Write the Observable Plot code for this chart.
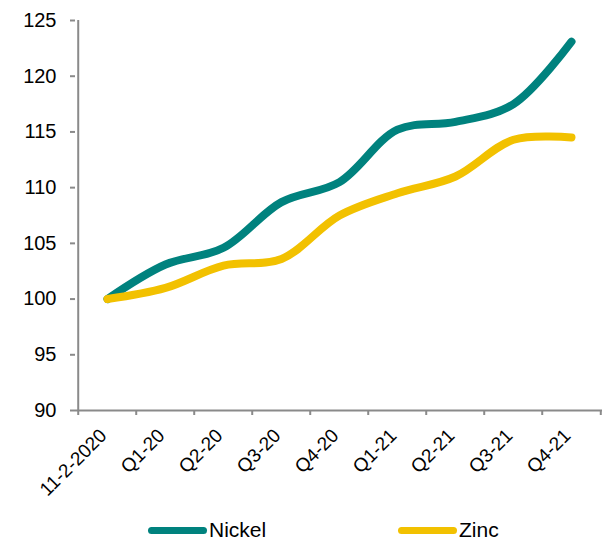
<!DOCTYPE html>
<html><head><meta charset="utf-8">
<script src="https://cdn.jsdelivr.net/npm/d3@7"></script>
<script src="https://cdn.jsdelivr.net/npm/@observablehq/plot@0.6"></script>
<style>
body{margin:0;background:#fff;font-family:"Liberation Sans",Arial,sans-serif;overflow:hidden;}
#wrap{position:relative;width:606px;height:540px;}
#legend{position:relative;width:606px;height:40px;}
.item{position:absolute;top:21px;display:flex;align-items:center;font-size:21px;color:#000;line-height:18px;height:18px;}
.sw{width:59px;height:7px;border-radius:4px;margin-right:2px;}
</style></head><body>
<div id="wrap"><div id="chart"></div><div id="legend"></div></div>
<script>
const categories = ["11-2-2020","Q1-20","Q2-20","Q3-20","Q4-20","Q1-21","Q2-21","Q3-21","Q4-21"];
const nickel = [100, 103.1, 104.6, 108.7, 110.5, 115.2, 115.9, 117.5, 123.1];
const zinc   = [100, 101.0, 103.0, 103.6, 107.5, 109.5, 111.0, 114.3, 114.5];
const yTicks = [90, 95, 100, 105, 110, 115, 120, 125];
const seriesNames = ["Nickel", "Zinc"];
const seriesColors = ["#00827e", "#f2c100"];
const seriesValues = [nickel, zinc];

const data = seriesNames.flatMap((s, k) => seriesValues[k].map((v, i) => ({series: s, cat: categories[i], value: v})));

const W = 606, H = 500, mL = 75, mR = 4, mT = 20, mB = 90;
const step = (W - mL - mR) / categories.length;
const pxPerUnit = (H - mT - mB) / (yTicks[yTicks.length-1] - yTicks[0]);
const axisColor = "#8a8a8a";
const y0 = yTicks[0], y1 = yTicks[yTicks.length-1];

const chart = Plot.plot({
  width: W, height: H, marginLeft: mL, marginRight: mR, marginTop: mT, marginBottom: mB,
  style: {fontFamily: "Liberation Sans, Arial, sans-serif", color: "#000", background: "#fff", overflow: "visible"},
  x: {type: "point", domain: categories, padding: 0.5, label: null},
  y: {domain: [y0, y1], label: null},
  color: {domain: seriesNames, range: seriesColors},
  marks: [
    Plot.axisY({ticks: yTicks, tickSize: 5, tickPadding: 14, stroke: axisColor, strokeWidth: 2, label: null, fontSize: 20, fill: "#000"}),
    Plot.axisX({tickSize: 0, tickRotate: -45, tickPadding: 22, dx: -4, label: null, fontSize: 19, fill: "#000"}),
    Plot.ruleX([categories[0]], {x: d => d, dx: -step/2, y1: y0, y2: y1, stroke: axisColor, strokeWidth: 2}),
    Plot.ruleY([y0], {stroke: axisColor, strokeWidth: 2}),
    Plot.ruleX(categories, {x: d => d, dx: -step/2, y1: y0, y2: y0 - 5/pxPerUnit, stroke: axisColor, strokeWidth: 2}),
    Plot.ruleX([categories[categories.length-1]], {x: d => d, dx: step/2, y1: y0, y2: y0 - 5/pxPerUnit, stroke: axisColor, strokeWidth: 2}),
    Plot.line(data, {x: "cat", y: "value", z: "series", stroke: "series", strokeWidth: 8, curve: "catmull-rom", strokeLinecap: "round", strokeLinejoin: "round"})
  ]
});
document.getElementById("chart").appendChild(chart);

const legend = document.getElementById("legend");
const legendX = [148, 398];
seriesNames.forEach((s, k) => {
  const it = document.createElement("div");
  it.className = "item";
  it.style.left = legendX[k] + "px";
  it.innerHTML = `<span class="sw" style="background:${seriesColors[k]}"></span><span>${s}</span>`;
  legend.appendChild(it);
});
</script>
</body></html>
